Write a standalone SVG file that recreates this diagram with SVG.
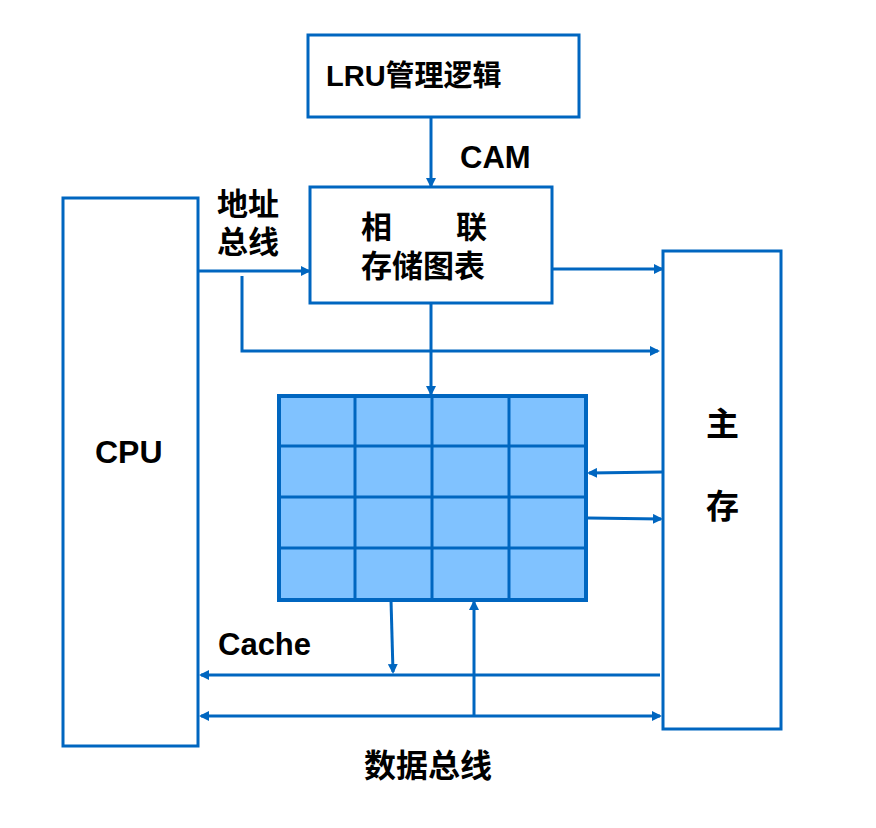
<svg xmlns="http://www.w3.org/2000/svg" width="876" height="828" viewBox="0 0 876 828">
<style>
.b{fill:#fff;stroke:#0066C0;stroke-width:3}
.t{font-family:"Liberation Sans","Noto Sans CJK SC",sans-serif;font-weight:bold;fill:#000}
.c{stroke:#0066C0;stroke-width:3;fill:none}
.g{stroke:#0066C0;stroke-width:3}
</style>
<defs>
<marker id="a" markerWidth="10" markerHeight="10" refX="8" refY="5" orient="auto-start-reverse" markerUnits="userSpaceOnUse"><path d="M0,0 L10,5 L0,10 Z" fill="#0066C0"/></marker>
</defs>
<rect width="876" height="828" fill="#fff"/>
<g id="lru"><rect class="b" x="308" y="35" width="271" height="82"/><text class="t" x="326" y="86" font-size="29">LRU管理逻辑</text></g>
<g id="cam"><rect class="b" x="310" y="187" width="242" height="116"/><text class="t" x="361" y="238" font-size="31">相</text><text class="t" x="456" y="238" font-size="31">联</text><text class="t" x="361" y="277" font-size="31">存储图表</text></g>
<g id="cpu"><rect class="b" x="63" y="198" width="135" height="548"/><text class="t" x="95" y="463" font-size="32">CPU</text></g>
<g id="mem"><rect class="b" x="663" y="251" width="118" height="478"/><text class="t" x="706" y="436" font-size="33">主</text><text class="t" x="706" y="518" font-size="33">存</text></g>
<g id="cache">
<rect x="279" y="396" width="307" height="204" fill="#80C2FF" stroke="#0066C0" stroke-width="4"/>
<g class="g"><line x1="279" y1="446" x2="586" y2="446"/><line x1="279" y1="497" x2="586" y2="497"/><line x1="279" y1="548" x2="586" y2="548"/><line x1="355" y1="396" x2="355" y2="600"/><line x1="432" y1="396" x2="432" y2="600"/><line x1="509" y1="396" x2="509" y2="600"/></g>
</g>
<g id="labels">
<text class="t" x="460" y="168" font-size="31">CAM</text>
<text class="t" x="217" y="215" font-size="31">地址</text>
<text class="t" x="217" y="253" font-size="31">总线</text>
<text class="t" x="218" y="655" font-size="31">Cache</text>
<text class="t" x="364" y="777" font-size="32">数据总线</text>
</g>
<g id="connectors" class="c">
<line x1="431" y1="117" x2="431" y2="186" marker-end="url(#a)"/>
<line x1="198" y1="271" x2="309" y2="271" marker-end="url(#a)"/>
<line x1="552" y1="269" x2="662" y2="269" marker-end="url(#a)"/>
<polyline points="242,276 242,351 658,351" marker-end="url(#a)"/>
<line x1="431" y1="303" x2="431" y2="394" marker-end="url(#a)"/>
<line x1="662" y1="472" x2="589" y2="473" marker-end="url(#a)"/>
<line x1="588" y1="518" x2="661" y2="519" marker-end="url(#a)"/>
<line x1="391" y1="600" x2="393" y2="672" marker-end="url(#a)"/>
<line x1="660" y1="675" x2="201" y2="675" marker-end="url(#a)"/>
<line x1="201" y1="716" x2="660" y2="716" marker-start="url(#a)" marker-end="url(#a)"/>
<line x1="474" y1="716" x2="474" y2="602" marker-end="url(#a)"/>
</g>
</svg>
